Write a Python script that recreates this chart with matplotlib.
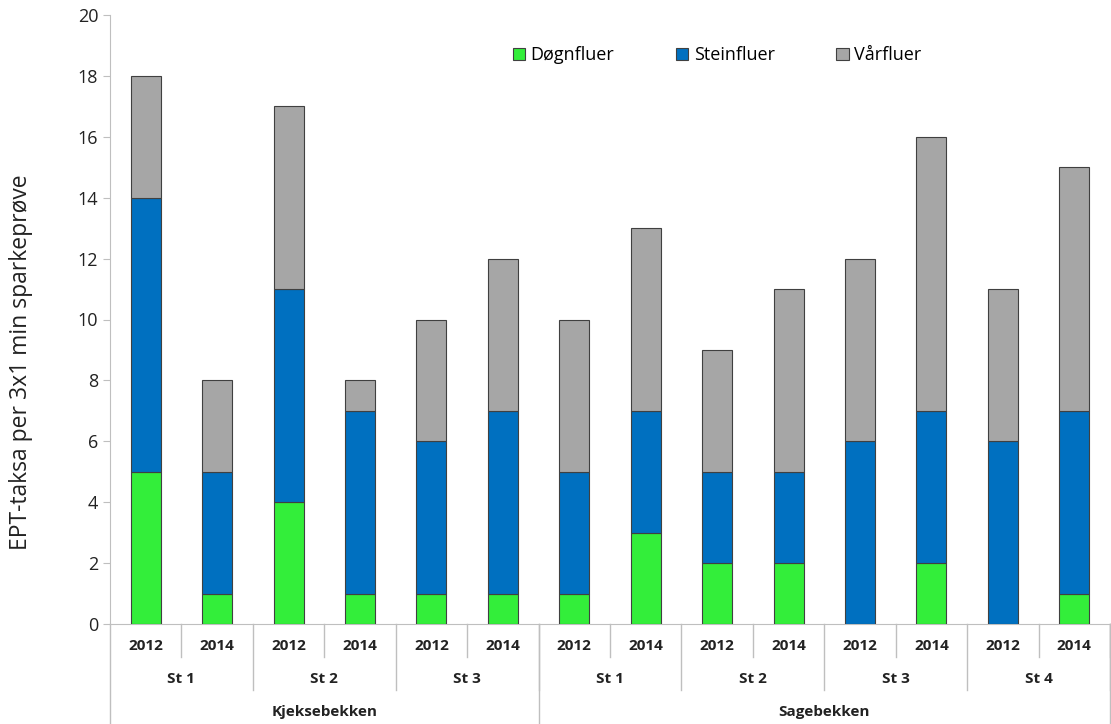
import matplotlib
matplotlib.use('Agg')
import matplotlib.pyplot as plt
import matplotlib.transforms as mtransforms

plt.rcParams['font.family'] = ['Open Sans', 'DejaVu Sans']

years = ['2012', '2014'] * 7
stations = ['St 1', 'St 2', 'St 3', 'St 1', 'St 2', 'St 3', 'St 4']
rivers = ['Kjeksebekken', 'Sagebekken']
river_sizes = [3, 4]  # stations per river

dognfluer = [5, 1, 4, 1, 1, 1, 1, 3, 2, 2, 0, 2, 0, 1]
steinfluer = [9, 4, 7, 6, 5, 6, 4, 4, 3, 3, 6, 5, 6, 6]
varfluer = [4, 3, 6, 1, 4, 5, 5, 6, 4, 6, 6, 9, 5, 8]

colors = ['#33EE3A', '#0070C0', '#A6A6A6']
labels = ['Døgnfluer', 'Steinfluer', 'Vårfluer']


def main():
    fig = plt.figure(figsize=(11.11, 7.24), dpi=100)
    ax = fig.add_axes([110 / 1111, 1 - 624 / 724, 1000 / 1111, 609 / 724])

    x = list(range(len(years)))
    bottom = [0] * len(x)
    for vals, c, lab in zip([dognfluer, steinfluer, varfluer], colors, labels):
        ax.bar(x, vals, bottom=bottom, width=0.42, color=c, edgecolor='#404040',
               linewidth=0.8, label=lab, zorder=3)
        bottom = [b + v for b, v in zip(bottom, vals)]

    ax.set_xlim(-0.5, len(x) - 0.5)
    ax.set_ylim(0, 20)
    ax.set_yticks(range(0, 21, 2))
    ax.tick_params(axis='y', labelsize=13, color='#BFBFBF', length=5, labelcolor='#222222')
    ax.set_xticks([])
    for s in ['top', 'right']:
        ax.spines[s].set_visible(False)
    ax.spines['left'].set_color('#BFBFBF')
    ax.spines['bottom'].set_color('#BFBFBF')
    ax.set_ylabel('EPT-taksa per 3x1 min sparkeprøve', fontsize=16.5, color='#222222')
    ax.yaxis.set_label_coords(-0.077, 0.43)

    # multi-level category axis
    trans = mtransforms.blended_transform_factory(ax.transData, ax.transAxes)
    px = 1 / 609  # one pixel in axes height
    line_kw = dict(color='#BFBFBF', linewidth=1, transform=trans, clip_on=False)
    txt_kw = dict(transform=trans, ha='center', va='center', fontsize=11,
                  fontweight='bold', color='#222222')

    for i, y in enumerate(years):
        ax.text(i, -22 * px, y, **txt_kw)
        if i % 2 == 1 and i < len(years) - 1:
            continue
        ax.plot([i + 0.5, i + 0.5], [0, -33 * px], **line_kw)

    for j, st in enumerate(stations):
        ax.text(2 * j + 0.5, -55 * px, st, **txt_kw)
        ax.plot([2 * j + 1.5, 2 * j + 1.5], [0, -66 * px], **line_kw)

    start = 0
    for r, n in zip(rivers, river_sizes):
        end = start + 2 * n
        ax.text((start + end - 1) / 2, -88 * px, r, **txt_kw)
        ax.plot([start - 0.5, start - 0.5], [0, -100 * px], **line_kw)
        start = end
    ax.plot([start - 0.5, start - 0.5], [0, -100 * px], **line_kw)

    ax.legend(loc='center', bbox_to_anchor=(0.607, 0.934), ncol=3, frameon=False,
              fontsize=13, handlelength=0.7, handleheight=0.7, handletextpad=0.3,
              columnspacing=3.4)

    fig.savefig('out.png', dpi=100)


if __name__ == '__main__':
    main()
